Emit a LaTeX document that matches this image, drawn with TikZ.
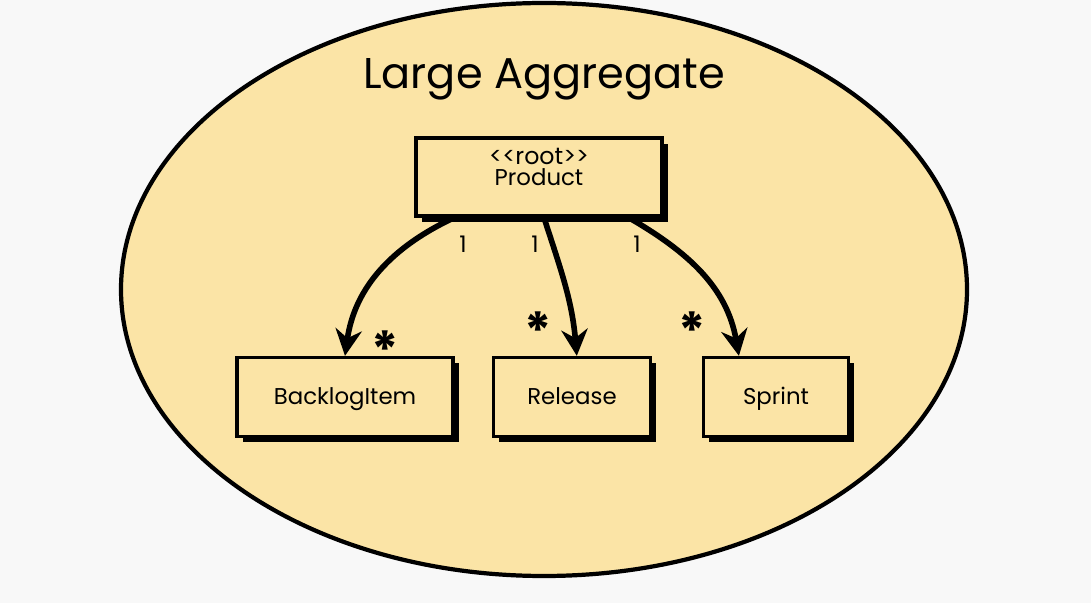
\documentclass[tikz,border=0pt]{standalone}
\usepackage{fontspec}
\setmainfont{Poppins}
\usepackage{xcolor}
\usepackage{tikz}
\usetikzlibrary{arrows.meta, positioning, shadows, calc}
\definecolor{aggregatecolor}{RGB}{251, 228, 166}
\definecolor{pagecolor}{RGB}{248, 248, 248}

\begin{document}
\begin{tikzpicture}[
    entitybox/.style={draw, line width=1.9pt, fill=aggregatecolor, minimum height=1.58cm, font=\fontsize{13}{15}\selectfont,
        text height=0.9em, text depth=0.1em,
        drop shadow={shadow xshift=3.2pt, shadow yshift=-3.2pt, fill=black, opacity=1}},
    assoc/.style={line width=3.2pt, -{Stealth[length=15pt, width=15pt]}},
    mult/.style={font=\fontsize{13}{15}\selectfont},
    many/.style={font=\fontsize{29}{31}\selectfont\bfseries}
]
    % Page
    \fill[pagecolor] (0, 0) rectangle (21.82, 12.06);
    \useasboundingbox (0, 0) rectangle (21.82, 12.06);

    % Aggregate boundary
    \draw[line width=2.4pt, fill=aggregatecolor] (10.88, 6.27) ellipse (8.46 and 5.73);
    \node[font=\fontsize{24.5}{28}\selectfont] (title) at (10.88, 10.48) {Large Aggregate};

    % Root entity
    \node[draw, line width=1.9pt, fill=aggregatecolor, minimum width=4.92cm, minimum height=1.56cm,
        drop shadow={shadow xshift=3.2pt, shadow yshift=-3.2pt, fill=black, opacity=1}] (product) at (10.78, 8.52) {};
    \node[font=\fontsize{13}{15}\selectfont, align=center, below=3pt of product.north] (productname)
        {{\fontsize{13.5}{14}\selectfont <{}<root>{}>}\\[-3pt]Product};

    % Child entities
    \node[entitybox, minimum width=4.32cm] (backlog) at (6.9, 4.12) {BacklogItem};
    \node[entitybox, minimum width=3.14cm] (release) at (11.44, 4.12) {Release};
    \node[entitybox, minimum width=2.9cm] (sprint) at (15.52, 4.12) {Sprint};

    % Associations
    \draw[assoc] ($(product.south west)!0.16!(product.south east)$) to[out=205, in=82] (backlog.north);
    \draw[assoc] ($(product.south west)!0.52!(product.south east)$) to[out=-72, in=95] ($(release.north west)!0.53!(release.north east)$);
    \draw[assoc] ($(product.south west)!0.86!(product.south east)$) to[out=-30, in=100] ($(sprint.north west)!0.25!(sprint.north east)$);

    % Multiplicities
    \node[mult] (m1) at (9.26, 7.18) {1};
    \node[mult] (m2) at (10.7, 7.18) {1};
    \node[mult] (m3) at (12.74, 7.18) {1};
    \node[many] (s1) at (7.7, 5.06) {*};
    \node[many] (s2) at (10.76, 5.44) {*};
    \node[many] (s3) at (13.84, 5.44) {*};
\end{tikzpicture}
\end{document}
